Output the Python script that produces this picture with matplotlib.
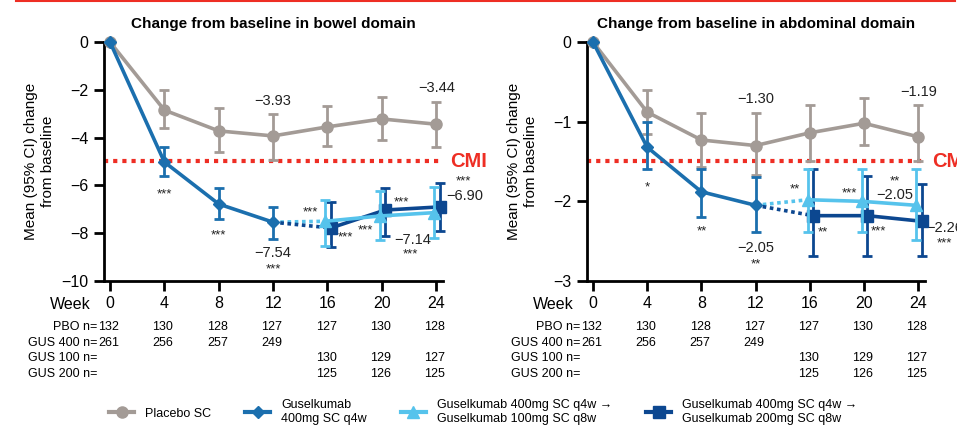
import matplotlib
matplotlib.use('Agg')
import matplotlib.pyplot as plt
from matplotlib.lines import Line2D
import numpy as np

plt.rcParams['font.family'] = ['Liberation Sans', 'DejaVu Sans']

weeks = [0, 4, 8, 12, 16, 20, 24]
weeks_main = [0, 4, 8, 12]
weeks_late = [16, 20, 24]

# bowel domain
pbo_bowel = [0, -2.85, -3.72, -3.93, -3.55, -3.22, -3.44]
pbo_bowel_lo = [0, -3.6, -4.6, -4.94, -4.35, -4.1, -4.39]
pbo_bowel_hi = [0, -2.0, -2.77, -3.0, -2.68, -2.3, -2.5]
gus400_bowel = [0, -5.02, -6.78, -7.54]
gus400_bowel_lo = [0, -5.6, -7.4, -8.24]
gus400_bowel_hi = [0, -4.4, -6.1, -6.9]
gus100_bowel = [-7.5, -7.28, -7.14]
gus100_bowel_lo = [-8.54, -8.28, -8.2]
gus100_bowel_hi = [-6.6, -6.23, -6.07]
gus200_bowel = [-7.78, -7.03, -6.90]
gus200_bowel_lo = [-8.58, -8.1, -7.9]
gus200_bowel_hi = [-6.69, -6.1, -5.9]

# abdominal domain
pbo_abd = [0, -0.88, -1.23, -1.30, -1.14, -1.02, -1.19]
pbo_abd_lo = [0, -1.16, -1.57, -1.67, -1.5, -1.29, -1.5]
pbo_abd_hi = [0, -0.6, -0.89, -0.89, -0.79, -0.70, -0.79]
gus400_abd = [0, -1.32, -1.88, -2.05]
gus400_abd_lo = [0, -1.59, -2.2, -2.39]
gus400_abd_hi = [0, -1.0, -1.59, -1.69]
gus100_abd = [-1.98, -2.0, -2.05]
gus100_abd_lo = [-2.39, -2.39, -2.49]
gus100_abd_hi = [-1.59, -1.59, -1.59]
gus200_abd = [-2.18, -2.18, -2.25]
gus200_abd_lo = [-2.69, -2.69, -2.69]
gus200_abd_hi = [-1.59, -1.68, -1.78]

n_pbo = ['132', '130', '128', '127', '127', '130', '128']
n_gus400 = ['261', '256', '257', '249', '', '', '']
n_gus100 = ['', '', '', '', '130', '129', '127']
n_gus200 = ['', '', '', '', '125', '126', '125']
row_labels = ['PBO n=', 'GUS 400 n=', 'GUS 100 n=', 'GUS 200 n=']

c_pbo = '#a39b96'
c_gus = '#1b6fae'
c_light = '#56c3ec'
c_navy = '#0c4790'
c_red = '#ee2e24'

fig = plt.figure(figsize=(9.57, 4.36), dpi=100)
fig.add_artist(Line2D([16/957, 955/957], [1 - 1/436, 1 - 1/436], color=c_red, lw=1.5))


def err(mean, lo, hi):
    mean = np.array(mean); lo = np.array(lo); hi = np.array(hi)
    return [mean - lo, hi - mean]


def panel(ax, title, pbo, plo, phi, g4, g4lo, g4hi, g1, g1lo, g1hi, g2, g2lo, g2hi,
          ylim, yticks, cmi, notes):
    ekw = dict(capsize=3.5, elinewidth=2, capthick=2, lw=2.6, clip_on=False)
    ax.errorbar(weeks, pbo, yerr=err(pbo, plo, phi), color=c_pbo, marker='o', ms=8, zorder=3, **ekw)
    ax.errorbar(weeks_main, g4, yerr=err(g4, g4lo, g4hi), color=c_gus, marker='D', ms=6.5, zorder=5, **ekw)
    x1 = np.array(weeks_late) - 0.15
    x2 = np.array(weeks_late) + 0.25
    ax.plot([weeks_main[-1], x1[0]], [g4[-1], g1[0]], color=c_light, lw=2.6, ls=(0, (1, 1)), zorder=4)
    ax.plot([weeks_main[-1], x2[0]], [g4[-1], g2[0]], color=c_navy, lw=2.6, ls=(0, (1, 1)), zorder=4)
    ax.errorbar(x2, g2, yerr=err(g2, g2lo, g2hi), color=c_navy, marker='s', ms=8, zorder=5, **ekw)
    ax.errorbar(x1, g1, yerr=err(g1, g1lo, g1hi), color=c_light, marker='^', ms=9, zorder=6, **ekw)
    ax.axhline(cmi, color=c_red, lw=3, ls=(0, (1, 1.2)), zorder=2)
    ax.text(1.022, cmi, 'CMI', transform=ax.get_yaxis_transform(), color=c_red,
            fontsize=14.5, fontweight='bold', va='center', ha='left')

    ax.set_xlim(-0.44, 24.5)
    ax.set_ylim(*ylim)
    ax.set_yticks(yticks)
    ax.set_yticklabels([('\u2212' + str(abs(t))) if t < 0 else str(t) for t in yticks])
    ax.set_xticks(weeks)
    ax.set_xticklabels([str(w) for w in weeks])
    for s in ['top', 'right']:
        ax.spines[s].set_visible(False)
    for s in ['left', 'bottom']:
        ax.spines[s].set_linewidth(2)
    ax.tick_params(axis='both', width=2, length=7, labelsize=11.5, pad=4)
    ax.set_title(title, fontsize=11, fontweight='bold', pad=10)
    ax.set_ylabel('Mean (95% CI) change\nfrom baseline', fontsize=11, linespacing=1.3)
    ax.yaxis.set_label_coords(-0.145, 0.5)
    ax.text(-0.04, -0.10, 'Week', transform=ax.transAxes, ha='right', va='center', fontsize=11.5)

    # n table
    tr = ax.get_xaxis_transform()
    for i, (lab, row) in enumerate(zip(row_labels, [n_pbo, n_gus400, n_gus100, n_gus200])):
        yy = -0.193 - i * 0.065
        ax.text(-0.95, yy, lab, transform=tr, ha='right', va='center', fontsize=9)
        for w, v in zip(weeks, row):
            ax.text(w - 0.1, yy, v, transform=tr, ha='center', va='center', fontsize=9)

    for (x, y, txt, dx, dy, ha) in notes:
        ax.annotate(txt, (x, y), xytext=(dx, dy), textcoords='offset pixels',
                    ha=ha, va='center', fontsize=9.5 if txt[0] == '*' else 10.5, color='#222222')


ax1 = fig.add_axes([104/957, 1 - 281/436, 339/957, 239/436])
ax2 = fig.add_axes([587/957, 1 - 281/436, 338/957, 239/436])

notes1 = [
    (12, pbo_bowel[3], '\u22123.93', 0, 35, 'center'),
    (24, pbo_bowel[6], '\u22123.44', 0, 36, 'center'),
    (4, gus400_bowel[1], '***', 0, -32, 'center'),
    (8, gus400_bowel[2], '***', 0, -31, 'center'),
    (12, gus400_bowel[3], '\u22127.54', 0, -31, 'center'),
    (12, gus400_bowel[3], '***', 0, -47, 'center'),
    (16 - 0.15, gus100_bowel[0], '***', -15, 9, 'center'),
    (16.25, gus200_bowel[0], '***', 15, -9, 'center'),
    (20 - 0.15, gus100_bowel[1], '***', -14, -14, 'center'),
    (20.25, gus200_bowel[1], '***', 16, 8, 'center'),
    (24 - 0.15, gus100_bowel[2], '\u22127.14', -21, -27, 'center'),
    (24 - 0.15, gus100_bowel[2], '***', -24, -42, 'center'),
    (24.25, gus200_bowel[2], '***', 24, 25, 'center'),
    (24.25, gus200_bowel[2], '\u22126.90', 7, 11, 'left'),
]
notes2 = [
    (12, pbo_abd[3], '\u22121.30', 0, 47, 'center'),
    (24, pbo_abd[6], '\u22121.19', 0, 45, 'center'),
    (4, gus400_abd[1], '*', 0, -40, 'center'),
    (8, gus400_abd[2], '**', 0, -40, 'center'),
    (12, gus400_abd[3], '\u22122.05', 0, -43, 'center'),
    (12, gus400_abd[3], '**', 0, -59, 'center'),
    (16 - 0.15, gus100_abd[0], '**', -13, 10, 'center'),
    (16.25, gus200_abd[0], '**', 10, -17, 'center'),
    (20 - 0.15, gus100_abd[1], '***', -13, 8, 'center'),
    (20.25, gus200_abd[1], '***', 11, -16, 'center'),
    (24 - 0.15, gus100_abd[2], '**', -21, 24, 'center'),
    (24 - 0.15, gus100_abd[2], '\u22122.05', -21, 10, 'center'),
    (24.25, gus200_abd[2], '\u22122.26', 5, -7, 'left'),
    (24.25, gus200_abd[2], '***', 23, -22, 'center'),
]

panel(ax1, 'Change from baseline in bowel domain', pbo_bowel, pbo_bowel_lo, pbo_bowel_hi,
      gus400_bowel, gus400_bowel_lo, gus400_bowel_hi, gus100_bowel, gus100_bowel_lo, gus100_bowel_hi,
      gus200_bowel, gus200_bowel_lo, gus200_bowel_hi, (-10, 0), [-10, -8, -6, -4, -2, 0], -5, notes1)
panel(ax2, 'Change from baseline in abdominal domain', pbo_abd, pbo_abd_lo, pbo_abd_hi,
      gus400_abd, gus400_abd_lo, gus400_abd_hi, gus100_abd, gus100_abd_lo, gus100_abd_hi,
      gus200_abd, gus200_abd_lo, gus200_abd_hi, (-3, 0), [-3, -2, -1, 0], -1.5, notes2)

handles = [
    Line2D([], [], color=c_pbo, marker='o', ms=8, lw=3),
    Line2D([], [], color=c_gus, marker='D', ms=6.5, lw=3),
    Line2D([], [], color=c_light, marker='^', ms=9, lw=3),
    Line2D([], [], color=c_navy, marker='s', ms=8, lw=3),
]
labels = ['Placebo SC', 'Guselkumab\n400mg SC q4w',
          'Guselkumab 400mg SC q4w \u2192\nGuselkumab 100mg SC q8w',
          'Guselkumab 400mg SC q4w \u2192\nGuselkumab 200mg SC q8w']
fig.legend(handles, labels, loc='center', bbox_to_anchor=(0.505, 0.055), ncol=4, frameon=False,
           fontsize=9, handlelength=2.0, handletextpad=0.9, columnspacing=2.7)

plt.savefig('out.png', dpi=100)
